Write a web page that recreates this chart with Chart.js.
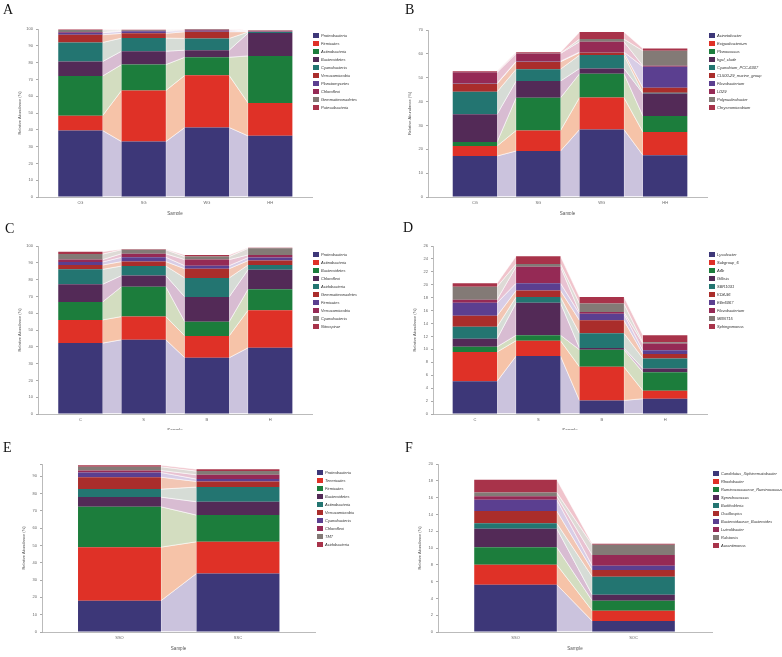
<!DOCTYPE html>
<html>
<head>
<meta charset="utf-8">
<script src="https://cdn.jsdelivr.net/npm/chart.js@4.4.1/dist/chart.umd.min.js"></script>
<style>
  body { margin: 0; background: #fff; width: 782px; height: 657px; position: relative; overflow: hidden; }
  canvas { position: absolute; }
  .tag { position: absolute; font-family: "Liberation Serif", "DejaVu Serif", serif; font-size: 14px; line-height: 14px; color: #111; }
</style>
</head>
<body>

<script>
// ---- data ----
const aSamples = ['CG', 'SG', 'WG', 'HH'];
const aTaxa = ['Proteobacteria', 'Firmicutes', 'Actinobacteria', 'Bacteroidetes', 'Cyanobacteria',
  'Verrucomicrobia', 'Planctomycetes', 'Chloroflexi', 'Gemmatimonadetes', 'Patescibacteria'];
const aValues = [
  [39.6, 33.0, 41.4, 36.4],
  [8.8, 30.4, 31.0, 19.6],
  [23.6, 15.4, 10.8, 28.0],
  [8.6, 8.0, 4.2, 13.6],
  [11.4, 7.8, 7.0, 0.6],
  [4.6, 2.8, 4.0, 0.2],
  [1.2, 1.2, 0.6, 0.2],
  [0.4, 0.3, 0.6, 0.2],
  [1.2, 0.5, 0.2, 0.2],
  [0.3, 0.2, 0.2, 0.2]
];

const bSamples = ['CG', 'SG', 'WG', 'HH'];
const bTaxa = ['Acinetobacter', 'Exiguobacterium', 'Planococcus', 'hgcI_clade', 'Cyanobium_PCC-6307',
  'CL500-29_marine_group', 'Flavobacterium', 'LD29', 'Polynucleobacter', 'Chryseomicrobium'];
const bValues = [
  [17.2, 19.3, 28.3, 17.5],
  [4.2, 8.6, 13.4, 9.7],
  [1.7, 13.7, 10.0, 6.7],
  [11.6, 7.0, 2.2, 9.5],
  [9.4, 5.0, 5.6, 0.3],
  [3.4, 3.1, 1.1, 2.1],
  [0.2, 0.2, 0.2, 8.8],
  [4.6, 3.3, 4.3, 0.4],
  [0.1, 0.1, 1.1, 6.3],
  [0.3, 0.4, 3.0, 0.9]
];

const cSamples = ['C', 'S', 'B', 'H'];
const cTaxa = ['Proteobacteria', 'Actinobacteria', 'Bacteroidetes', 'Chloroflexi', 'Acidobacteria',
  'Gemmatimonadetes', 'Firmicutes', 'Verrucomicrobia', 'Cyanobacteria', 'Nitrospirae'];
const cValues = [
  [42.2, 44.2, 33.5, 39.4],
  [13.8, 13.8, 13.0, 22.4],
  [10.7, 17.8, 8.4, 12.5],
  [10.5, 6.6, 14.8, 11.6],
  [8.9, 5.7, 11.3, 2.8],
  [2.6, 2.6, 5.5, 2.6],
  [1.8, 2.6, 1.8, 1.8],
  [1.4, 2.1, 3.6, 1.6],
  [3.3, 2.4, 1.8, 3.9],
  [1.4, 0.3, 1.0, 0.3]
];

const dSamples = ['C', 'S', 'B', 'H'];
const dTaxa = ['Lysobacter', 'Subgroup_6', 'A4b', 'Gillisia', 'SBR1031',
  'KD4-96', 'Ellin6067', 'Flavobacterium', 'MBNT15', 'Sphingomonas'];
const dValues = [
  [5.05, 8.97, 2.1, 2.37],
  [4.55, 2.38, 5.2, 1.23],
  [0.8, 0.85, 2.65, 2.85],
  [1.25, 5.0, 0.25, 0.6],
  [1.85, 0.9, 2.3, 1.55],
  [1.7, 1.0, 2.0, 0.7],
  [2.0, 1.15, 1.0, 0.55],
  [0.5, 2.55, 0.3, 1.05],
  [2.0, 0.4, 1.3, 0.2],
  [0.55, 1.2, 1.0, 1.1]
];

const eSamples = ['SSO', 'SSC'];
const eTaxa = ['Proteobacteria', 'Tenericutes', 'Firmicutes', 'Bacteroidetes', 'Actinobacteria',
  'Verrucomicrobia', 'Cyanobacteria', 'Chloroflexi', 'TM7', 'Acidobacteria'];
const eValues = [
  [18.1, 33.8],
  [30.9, 18.3],
  [23.3, 15.4],
  [5.6, 7.7],
  [4.6, 8.5],
  [6.9, 3.2],
  [2.7, 1.4],
  [1.2, 2.5],
  [2.1, 2.1],
  [0.9, 1.1]
];

const fSamples = ['SSO', 'SOC'];
const fTaxa = ['Candidatus_Xiphinematobacter', 'Rhodobacter', 'Ruminococcaceae_Ruminococcus', 'Synechococcus',
  'Burkholderia', 'Oscillospira', 'Bacteroidaceae_Bacteroides', 'Luteolibacter', 'Ralstonia', 'Aurantimonas'];
const fValues = [
  [5.63, 1.31],
  [2.37, 1.23],
  [2.08, 1.19],
  [2.22, 0.71],
  [0.64, 2.15],
  [1.46, 0.79],
  [1.35, 0.52],
  [0.4, 1.27],
  [0.45, 1.23],
  [1.53, 0.12]
];

// colours shared by all panels (rank order)
const barColors = ['#3d3778', '#df3127', '#1c7d3c', '#532a57', '#237571',
  '#aa2d2b', '#5b3f90', '#952a55', '#837a76', '#a8334a'];
const flowColors = ['#cbc3dd', '#f6c3a8', '#d3ddc0', '#d8bcd2', '#d6dcd6',
  '#f2c6b4', '#d8cde6', '#e8c2d2', '#dedad6', '#f0c4cc'];

Chart.defaults.font.family = '"Liberation Sans", Arial, sans-serif';

// draws the light ribbons joining the same taxon between neighbouring bars
const flows = {
  id: 'flows',
  beforeDatasetsDraw(chart) {
    const ctx = chart.ctx;
    ctx.save();
    chart.data.datasets.forEach((ds, i) => {
      const bars = chart.getDatasetMeta(i).data;
      for (let j = 0; j < bars.length - 1; j++) {
        const a = bars[j], b = bars[j + 1];
        ctx.beginPath();
        ctx.moveTo(a.x + a.width / 2, a.y);
        ctx.lineTo(b.x - b.width / 2, b.y);
        ctx.lineTo(b.x - b.width / 2, b.base);
        ctx.lineTo(a.x + a.width / 2, a.base);
        ctx.closePath();
        ctx.fillStyle = flowColors[i];
        ctx.fill();
        ctx.strokeStyle = 'rgba(255,255,255,0.9)';
        ctx.lineWidth = 0.6;
        ctx.stroke();
      }
    });
    ctx.restore();
  }
};

// small legend on the right of each panel
const sideLegend = {
  id: 'sideLegend',
  afterDraw(chart, args, opts) {
    const ctx = chart.ctx;
    ctx.save();
    ctx.font = 'italic 4px "Liberation Sans", Arial, sans-serif';
    ctx.textBaseline = 'middle';
    chart.data.datasets.forEach((ds, i) => {
      const y = opts.y + i * 8;
      ctx.fillStyle = ds.backgroundColor;
      ctx.fillRect(opts.x, y, 6, 5);
      ctx.fillStyle = '#333';
      ctx.fillText(ds.label, opts.x + 8, y + 2.6);
    });
    ctx.restore();
  }
};

const YW = 22, XH = 20;

function makePanel(p) {
  const cv = document.createElement('canvas');
  cv.width = p.w; cv.height = p.h;
  cv.style.left = p.left + 'px'; cv.style.top = p.top + 'px';
  document.body.appendChild(cv);

  const datasets = p.taxa.map((t, i) => ({
    label: t,
    data: p.values[i].map((v, j) => ({ x: j, y: v })),
    backgroundColor: barColors[i],
    borderWidth: 0,
    categoryPercentage: 0.7,
    barPercentage: 1
  }));

  new Chart(cv, {
    type: 'bar',
    data: { datasets },
    plugins: [flows, sideLegend],
    options: {
      responsive: false,
      animation: false,
      layout: { padding: { left: p.l - YW, right: p.w - p.r, top: p.t, bottom: p.h - p.b - XH } },
      plugins: {
        legend: { display: false },
        tooltip: { enabled: false },
        sideLegend: { x: p.lx, y: p.ly }
      },
      scales: {
        x: {
          type: 'linear', stacked: true, offset: false,
          min: p.xmin, max: p.xmax,
          afterBuildTicks: s => { s.ticks = p.samples.map((_, i) => ({ value: i })); },
          afterFit: s => { s.height = XH; },
          ticks: { callback: v => p.samples[v], font: { size: 4 }, color: '#666', padding: 3, autoSkip: false, maxRotation: 0 },
          grid: { drawOnChartArea: false, drawTicks: false, offset: false },
          border: { color: '#aaa', width: 0.8 },
          title: { display: true, text: 'Sample', font: { size: 4.5 }, color: '#555', padding: { top: 0, bottom: 1 } }
        },
        y: {
          stacked: true, min: 0, max: p.ymax,
          afterBuildTicks: s => {
            const t = [];
            for (let v = 0; v <= p.ymax + 1e-9; v += p.step) t.push({ value: v });
            if (t[t.length - 1].value < p.ymax) t.push({ value: p.ymax });
            s.ticks = t;
          },
          afterFit: s => { s.width = YW; },
          ticks: { callback: v => (Math.abs(v / p.step - Math.round(v / p.step)) < 1e-6 ? v : ''), font: { size: 4 }, color: '#666', padding: 3 },
          grid: { drawOnChartArea: false, tickLength: 2, color: '#aaa' },
          border: { color: '#aaa', width: 0.8 },
          title: { display: true, text: 'Relative Abundance (%)', font: { size: 4 }, color: '#555', padding: { top: 1, bottom: 0 } }
        }
      }
    }
  });

  const tag = document.createElement('div');
  tag.className = 'tag';
  tag.textContent = p.tag;
  tag.style.left = p.tx + 'px'; tag.style.top = p.ty + 'px';
  document.body.appendChild(tag);
}

makePanel({ tag: 'A', tx: 3, ty: 3, left: 0, top: 0, w: 391, h: 215, l: 38, r: 312, t: 29, b: 197,
  xmin: -0.67, xmax: 3.66, ymax: 100, step: 10, lx: 313, ly: 33,
  samples: aSamples, taxa: aTaxa, values: aValues });
makePanel({ tag: 'B', tx: 405, ty: 3, left: 391, top: 0, w: 391, h: 215, l: 37, r: 316, t: 30, b: 197,
  xmin: -0.74, xmax: 3.66, ymax: 70, step: 10, lx: 318, ly: 33,
  samples: bSamples, taxa: bTaxa, values: bValues });
makePanel({ tag: 'C', tx: 5, ty: 222, left: 0, top: 215, w: 391, h: 215, l: 38, r: 312, t: 31, b: 199,
  xmin: -0.67, xmax: 3.66, ymax: 100, step: 10, lx: 313, ly: 37,
  samples: cSamples, taxa: cTaxa, values: cValues });
makePanel({ tag: 'D', tx: 403, ty: 221, left: 391, top: 215, w: 391, h: 215, l: 42, r: 316, t: 31, b: 199,
  xmin: -0.66, xmax: 3.66, ymax: 26, step: 2, lx: 318, ly: 37,
  samples: dSamples, taxa: dTaxa, values: dValues });
makePanel({ tag: 'E', tx: 3, ty: 441, left: 0, top: 430, w: 391, h: 227, l: 42, r: 315, t: 34, b: 202,
  xmin: -0.654, xmax: 1.65, ymax: 97, step: 10, lx: 317, ly: 40,
  samples: eSamples, taxa: eTaxa, values: eValues });
makePanel({ tag: 'F', tx: 405, ty: 441, left: 391, top: 430, w: 391, h: 227, l: 47, r: 321, t: 34, b: 202,
  xmin: -0.657, xmax: 1.665, ymax: 20, step: 2, lx: 322, ly: 41,
  samples: fSamples, taxa: fTaxa, values: fValues });
</script>
</body>
</html>
